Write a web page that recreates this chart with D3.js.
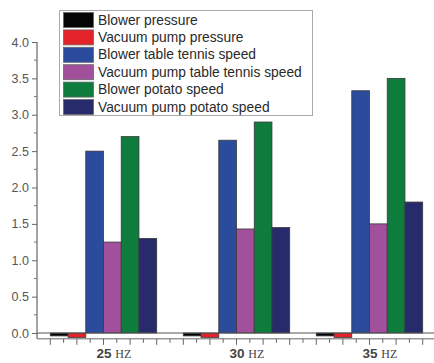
<!DOCTYPE html>
<html>
<head>
<meta charset="utf-8">
<script src="https://cdn.jsdelivr.net/npm/d3@7"></script>
<style>
  body { margin: 0; background: #fff; }
  text { font-family: "Liberation Sans", Arial, sans-serif; }
</style>
</head>
<body>
<script>
const width = 434, height = 363;

// frequencies (Hz)
const freqs = [25, 30, 35];
// series values per frequency
const blowerPressure = [-0.04, -0.04, -0.04];
const vacuumPressure = [-0.06, -0.06, -0.06];
const blowerTT = [2.5, 2.65, 3.33];
const vacuumTT = [1.25, 1.43, 1.5];
const blowerPotato = [2.7, 2.9, 3.5];
const vacuumPotato = [1.3, 1.45, 1.8];
const seriesNames = ["Blower pressure", "Vacuum pump pressure", "Blower table tennis speed",
  "Vacuum pump table tennis speed", "Blower potato speed", "Vacuum pump potato speed"];
const yTicks = [0, 0.5, 1, 1.5, 2, 2.5, 3, 3.5, 4];

const seriesValues = [blowerPressure, vacuumPressure, blowerTT, vacuumTT, blowerPotato, vacuumPotato];
const colors = ["#050505", "#e4222a", "#2b4b9d", "#a3509c", "#0e7c3c", "#272b6b"];

const svg = d3.select("body").append("svg")
  .attr("width", width)
  .attr("height", height);

const x = d3.scaleLinear().domain([22.5, 37.5]).range([37, 436]);
const y = d3.scaleLinear().domain([0, 4]).range([333, 42]);
const yMin = -0.08;
const barW = x(22.5 + 2 / 3) - x(22.5);

// bars
seriesValues.forEach(function(vals, i) {
  svg.append("g").selectAll("rect")
    .data(vals)
    .enter()
      .append("rect")
      .attr("x", function(d, j) { return x(freqs[j]) + (i - 3) * barW; })
      .attr("y", function(d) { return y(Math.max(0, d)); })
      .attr("width", barW)
      .attr("height", function(d) { return Math.abs(y(d) - y(0)); })
      .attr("fill", colors[i])
      .attr("stroke", "#3a3a3a")
      .attr("stroke-width", 0.8);
});

// zero line
svg.append("line")
  .attr("x1", x(22.5)).attr("x2", width)
  .attr("y1", y(0)).attr("y2", y(0))
  .attr("stroke", "#555").attr("stroke-width", 1);

// y axis
const yAxis = d3.axisLeft(y)
  .tickValues(yTicks)
  .tickSize(5)
  .tickFormat(d3.format(".1f"));
const gy = svg.append("g")
  .attr("transform", "translate(" + x(22.5) + ",0)")
  .call(yAxis);
gy.select(".domain").remove();
gy.selectAll(".tick line").attr("stroke", "#666");
gy.selectAll(".tick text")
  .attr("x", -8)
  .attr("fill", "#555")
  .style("font-size", "12.5px");
svg.append("line")
  .attr("x1", x(22.5)).attr("x2", x(22.5))
  .attr("y1", y(4)).attr("y2", y(yMin))
  .attr("stroke", "#666").attr("stroke-width", 1.2);
// minor y ticks
svg.append("g").selectAll("line")
  .data(d3.range(0.25, 4, 0.5))
  .enter()
    .append("line")
    .attr("x1", x(22.5) - 3).attr("x2", x(22.5))
    .attr("y1", function(d) { return y(d); })
    .attr("y2", function(d) { return y(d); })
    .attr("stroke", "#777");

// x axis
const xb = y(yMin);
svg.append("line")
  .attr("x1", x(22.5)).attr("x2", width)
  .attr("y1", xb).attr("y2", xb)
  .attr("stroke", "#666").attr("stroke-width", 1);
svg.append("g").selectAll("line")
  .data(d3.range(23, 37.6, 0.5))
  .enter()
    .append("line")
    .attr("x1", function(d) { return x(d); })
    .attr("x2", function(d) { return x(d); })
    .attr("y1", xb)
    .attr("y2", function(d) { return xb + (d % 1 === 0 ? 6 : 4); })
    .attr("stroke", "#666");

const xl = svg.append("g").selectAll("text")
  .data(freqs)
  .enter()
    .append("text")
    .attr("x", function(d) { return x(d) - 7; })
    .attr("y", 358)
    .attr("fill", "#444")
    .style("font-size", "13.5px")
    .style("font-weight", "bold");
xl.append("tspan").text(function(d) { return d + " "; });
xl.append("tspan")
  .style("font-family", "'Liberation Serif', serif")
  .style("font-size", "12px")
  .style("font-weight", "normal")
  .text("HZ");

// legend
const legend = svg.append("g");
legend.append("rect")
  .attr("x", 59.5).attr("y", 10.5)
  .attr("width", 253).attr("height", 105)
  .attr("fill", "#fff")
  .attr("stroke", "#aaa");
const rows = legend.selectAll(".row")
  .data(seriesNames)
  .enter()
    .append("g")
    .attr("class", "row")
    .attr("transform", function(d, i) { return "translate(0," + (12 + i * 17.4) + ")"; });
rows.append("rect")
  .attr("x", 63.5).attr("y", 0.5)
  .attr("width", 30).attr("height", 15)
  .attr("fill", function(d, i) { return colors[i]; })
  .attr("stroke", "#666").attr("stroke-width", 0.8);
rows.append("text")
  .attr("x", 98)
  .attr("y", 12.5)
  .attr("fill", "#2a2a2a")
  .style("font-size", "13.8px")
  .text(function(d) { return d; });
</script>
</body>
</html>
